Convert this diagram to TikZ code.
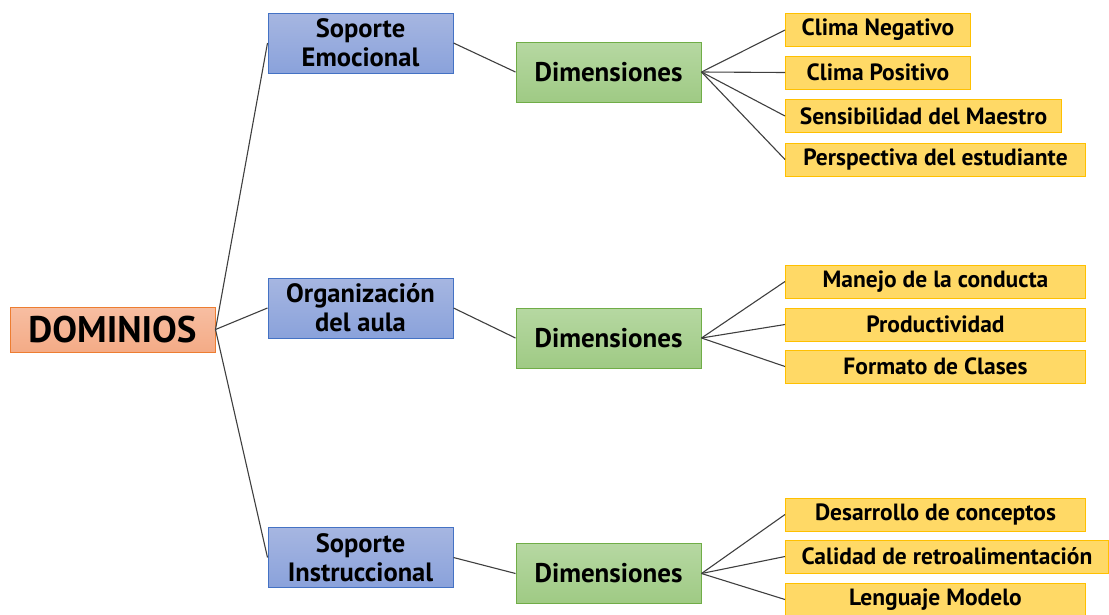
\documentclass[tikz,border=0pt]{standalone}
\usepackage{fontspec}
\setmainfont{PT Sans}
\usepackage{tikz}
\usetikzlibrary{positioning}
\definecolor{linegray}{HTML}{3F3F3F}
\definecolor{domline}{HTML}{ED7D31}
\definecolor{domtop}{HTML}{F7BEA2}
\definecolor{dombot}{HTML}{F4AB86}
\definecolor{bluline}{HTML}{4472C4}
\definecolor{blutop}{HTML}{A6B6E1}
\definecolor{blubot}{HTML}{8AA2DB}
\definecolor{grnline}{HTML}{70AD47}
\definecolor{grntop}{HTML}{B6D8A2}
\definecolor{grnbot}{HTML}{9FCA84}
\definecolor{ylwline}{HTML}{FFC000}
\definecolor{ylwfill}{HTML}{FFD966}

\begin{document}
\begin{tikzpicture}[x=1pt,y=-1pt,
  box/.style={draw,line width=1pt,inner sep=0pt,align=center,text=black},
  dom/.style={box,draw=domline,top color=domtop,bottom color=dombot,minimum width=205pt,minimum height=45pt,font=\fontsize{37}{40}\selectfont\bfseries},
  area/.style={box,draw=bluline,top color=blutop,bottom color=blubot,minimum width=185pt,minimum height=60pt,font=\fontsize{26.5}{29}\selectfont\bfseries},
  dimbox/.style={box,draw=grnline,top color=grntop,bottom color=grnbot,minimum width=185pt,minimum height=60pt,font=\fontsize{27}{29}\selectfont\bfseries},
  leaf/.style={box,draw=ylwline,fill=ylwfill,anchor=west,minimum height=33pt,font=\fontsize{23.5}{25}\selectfont\bfseries},
  link/.style={draw=linegray,line width=1.1pt}]
  \useasboundingbox (0,0) rectangle (1109,614);
  \node[dom] (dominios) at (112.5,329.5) {DOMINIOS};
  % primer dominio
  \node[area] (emocional) at (360.5,43) {Soporte\\Emocional};
  \node[dimbox] (dimemo) at (608.5,72) {Dimensiones};
  \node[leaf,minimum width=185pt] (clineg) at (785,30) {Clima Negativo};
  \node[leaf,minimum width=185pt] (clipos) at (785,72.5) {Clima Positivo};
  \node[leaf,minimum width=276pt] (sensib) at (785,116) {Sensibilidad del Maestro};
  \node[leaf,minimum width=300pt] (perspec) at (785,159.5) {Perspectiva del estudiante};
  % segundo dominio
  \node[area] (organiz) at (360.5,308) {Organización\\del aula};
  \node[dimbox] (dimorg) at (608.5,338) {Dimensiones};
  \node[leaf,minimum width=300pt] (manejo) at (785,281.5) {Manejo de la conducta};
  \node[leaf,minimum width=300pt] (product) at (785,324.5) {Productividad};
  \node[leaf,minimum width=300pt] (formato) at (785,366.5) {Formato de Clases};
  % tercer dominio
  \node[area] (instruc) at (360.5,557.5) {Soporte\\Instruccional};
  \node[dimbox] (diminst) at (608.5,573.5) {Dimensiones};
  \node[leaf,minimum width=300pt] (desarr) at (785,514.5) {Desarrollo de conceptos};
  \node[leaf,minimum width=323pt] (calidad) at (785,556.5) {Calidad de retroalimentación};
  \node[leaf,minimum width=300pt] (lenguaje) at (785,599.5) {Lenguaje Modelo};

  \foreach \dom in {emocional,organiz,instruc}
    \draw[link] (dominios.east) -- (\dom.west);
  \draw[link] (emocional.east) -- (dimemo.west);
  \draw[link] (organiz.east) -- (dimorg.west);
  \draw[link] (instruc.east) -- (diminst.west);
  \foreach \leaf in {clineg,clipos,sensib,perspec}
    \draw[link] (dimemo.east) -- (\leaf.west);
  \foreach \leaf in {manejo,product,formato}
    \draw[link] (dimorg.east) -- (\leaf.west);
  \foreach \leaf in {desarr,calidad,lenguaje}
    \draw[link] (diminst.east) -- (\leaf.west);
\end{tikzpicture}
\end{document}
